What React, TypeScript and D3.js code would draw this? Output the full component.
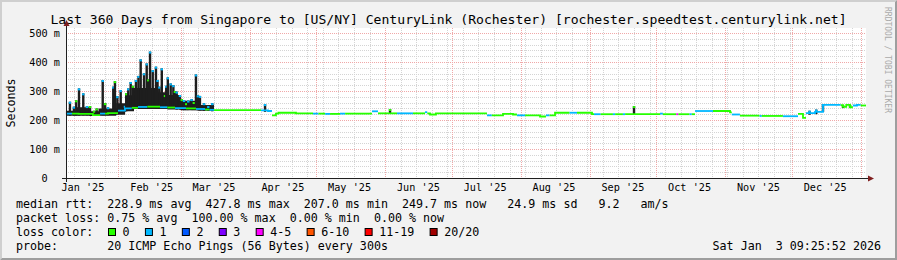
import React from "react";
import * as d3 from "d3";

// ---------- data ----------
const START = "2025-01-08 09:25:52";
const END = "2026-01-03 09:25:52";

const titleText =
  "Last 360 Days from Singapore to [US/NY] CenturyLink (Rochester) [rochester.speedtest.centurylink.net]";
const yAxisTitle = "Seconds";
const yTickValues = [0, 100, 200, 300, 400, 500];
const yTickLabels = ["0  ", "100 m", "200 m", "300 m", "400 m", "500 m"];
const monthLabels = [
  "Jan '25", "Feb '25", "Mar '25", "Apr '25", "May '25", "Jun '25",
  "Jul '25", "Aug '25", "Sep '25", "Oct '25", "Nov '25", "Dec '25",
];

// median rtt (ms), step starts, with loss count per step
const medianTimes = [
  "2025-01-08 09", "2025-01-11 02", "2025-01-14 00", "2025-01-20 12", "2025-01-23 17",
  "2025-01-26 00", "2025-01-27 07", "2025-01-31 19", "2025-02-03 22", "2025-02-07 00",
  "2025-02-09 19", "2025-02-14 00", "2025-02-19 17", "2025-02-23 00", "2025-02-26 11",
  "2025-03-03 09", "2025-03-07 21", "2025-03-11 23", "2025-03-14 00", "2025-03-16 00",
  "2025-04-06 03", "2025-04-09 07", "2025-04-11 02", "2025-04-12 21", "2025-04-14 00",
  "2025-04-21 21", "2025-04-29 13", "2025-05-02 00", "2025-05-05 00", "2025-05-07 05",
  "2025-05-11 17", "2025-05-14 00", "2025-05-26 02", "2025-05-28 19", "2025-06-06 08",
  "2025-06-13 13", "2025-06-18 23", "2025-06-19 23", "2025-06-21 05", "2025-06-23 21",
  "2025-07-16 20", "2025-07-19 00", "2025-07-24 01", "2025-07-28 13", "2025-07-30 08",
  "2025-08-03 00", "2025-08-09 17", "2025-08-12 09", "2025-08-14 00", "2025-08-16 11",
  "2025-08-23 00", "2025-08-26 08", "2025-09-02 02", "2025-09-03 00", "2025-09-06 00",
  "2025-09-11 12", "2025-09-12 12", "2025-09-16 00", "2025-09-17 00", "2025-10-02 17",
  "2025-10-04 00", "2025-10-10 00", "2025-10-11 00", "2025-10-16 00", "2025-10-17 00",
  "2025-10-18 11", "2025-10-26 13", "2025-11-03 05", "2025-11-04 00", "2025-11-07 16",
  "2025-11-16 12", "2025-11-17 12", "2025-11-27 00", "2025-12-03 19", "2025-12-06 01",
  "2025-12-07 09", "2025-12-11 11", "2025-12-15 01", "2025-12-23 00", "2025-12-24 01",
  "2025-12-25 12", "2025-12-27 05", "2025-12-28 12", "2025-12-30 08", "2026-01-01 00",
];
const medianMs = [
  222, 222, 221, 217, 222,
  222, 224, 232, 240, 242,
  245, 246, 244, 243, 241,
  240, 238, 236, 235, 234,
  233, 231, 216, 222, 225,
  223, 222, 222, 221, 221,
  222, 222, 230, 223, 223,
  223, 227, 223, 219, 223,
  216, 216, 221, 219, 216,
  216, 212, 216, 216, 225,
  225, 225, 220, 220, 220,
  220, 220, 220, 220, 222,
  220, 220, 220, 220, 220,
  231, 231, 226, 219, 215,
  214, 214, 213, 221, 207,
  224, 228, 252, 251, 245,
  252, 244, 250, 252, 250,
];
const medianLoss = [
  1, 0, 0, 0, 1,
  0, 0, 1, 1, 0,
  1, 0, 1, 0, 1,
  0, 1, 0, 1, 0,
  1, 1, 0, 0, 0,
  0, 1, 0, 1, 0,
  1, 0, 1, 0, 1,
  0, 1, 0, 0, 0,
  1, 0, 0, 0, 1,
  0, 0, 1, 0, 0,
  1, 0, 0, 1, 0,
  1, 0, 1, 0, 1,
  0, 5, 0, 1, 0,
  1, 0, 0, 1, 0,
  1, 0, 1, 0, 0,
  1, 1, 1, 0, 0,
  0, 0, 1, 1, 0,
];

// smoke spikes: time, lower and upper edge (ms), loss count at the top
const spikeTimes = [
  "2025-01-10 04", "2025-01-11 23", "2025-01-13 00", "2025-01-14 06", "2025-01-16 04",
  "2025-01-17 20", "2025-01-19 05", "2025-01-21 00", "2025-01-22 05", "2025-01-24 22",
  "2025-01-26 00", "2025-01-27 07", "2025-01-29 16", "2025-01-30 10", "2025-01-31 12",
  "2025-02-02 00", "2025-02-03 22", "2025-02-04 12", "2025-02-05 10", "2025-02-06 12",
  "2025-02-07 12", "2025-02-08 21", "2025-02-10 00", "2025-02-11 00", "2025-02-12 12",
  "2025-02-13 17", "2025-02-14 10", "2025-02-15 05", "2025-02-16 10", "2025-02-17 21",
  "2025-02-18 14", "2025-02-19 10", "2025-02-20 12", "2025-02-21 23", "2025-02-22 12",
  "2025-02-23 05", "2025-02-24 12", "2025-02-25 17", "2025-02-26 10", "2025-02-27 05",
  "2025-02-28 16", "2025-03-01 12", "2025-03-02 12", "2025-03-03 12", "2025-03-04 10",
  "2025-03-05 23", "2025-03-06 22", "2025-03-07 21", "2025-03-08 18", "2025-03-09 16",
  "2025-03-11 12", "2025-03-13 10", "2025-03-15 05", "2025-04-07 23", "2025-06-03 05",
  "2025-09-21 00", "2025-12-09 00", "2025-12-12 00", "2025-12-15 01", "2025-12-24 01",
  "2025-12-27 05",
];
const spikeLow = [
  215, 215, 215, 215, 216,
  216, 216, 214, 214, 216,
  216, 216, 218, 218, 220,
  222, 228, 230, 232, 235,
  236, 238, 240, 240, 240,
  240, 240, 242, 242, 242,
  240, 240, 240, 240, 240,
  240, 238, 238, 238, 236,
  236, 235, 234, 234, 234,
  234, 234, 234, 233, 233,
  232, 232, 230, 228, 221,
  219, 218, 220, 228, 241,
  242,
];
const spikeHigh = [
  263, 246, 268, 309, 292,
  248, 248, 232, 240, 338,
  258, 244, 315, 334, 282,
  303, 249, 292, 309, 331,
  318, 338, 352, 409, 361,
  395, 340, 436, 372, 384,
  338, 315, 378, 286, 318,
  347, 326, 320, 300, 298,
  286, 272, 269, 258, 267,
  272, 262, 357, 285, 283,
  258, 248, 258, 255, 238,
  248, 232, 236, 255, 252,
  252,
];
const spikeLoss = [
  1, 1, 0, 1, 1,
  1, 0, 0, 0, 1,
  0, 1, 1, 0, 1,
  1, 1, 0, 1, 1,
  0, 1, 1, 1, 1,
  1, 0, 1, 1, 1,
  1, 1, 1, 0, 1,
  1, 1, 1, 0, 1,
  1, 0, 1, 0, 1,
  1, 0, 1, 1, 1,
  1, 1, 1, 1, 0,
  0, 1, 1, 1, 0,
  0,
];

// dense smoke body in the early period
const bandTimes = [
  "2025-01-08 09", "2025-01-13 00", "2025-01-19 00", "2025-01-23 00", "2025-01-31 00",
  "2025-02-04 00", "2025-02-08 00", "2025-02-19 00", "2025-02-23 00", "2025-03-01 00",
  "2025-03-09 00", "2025-03-16 00",
];
const bandLow = [215, 215, 214, 215, 218, 230, 238, 238, 236, 234, 232, 233];
const bandHigh = [232, 244, 230, 240, 258, 285, 310, 296, 286, 266, 252, 233];

const lossLabels = ["0", "1", "2", "3", "4-5", "6-10", "11-19", "20/20"];
const lossColors = ["#26ff00", "#00b8ff", "#0059ff", "#7e00ff", "#ff00ff", "#ff5500", "#ff0000", "#a10000"];

const legendRtt =
  "median rtt:  228.9 ms avg  427.8 ms max  207.0 ms min  249.7 ms now   24.9 ms sd   9.2   am/s";
const legendLoss = "packet loss: 0.75 % avg  100.00 % max  0.00 % min  0.00 % now";
const legendColorTitle = "loss color:";
const legendProbe = "probe:       20 ICMP Echo Pings (56 Bytes) every 300s";
const stampText = "Sat Jan  3 09:25:52 2026";
const watermark = "RRDTOOL / TOBI OETIKER";

// ---------- layout ----------
const W = 897;
const H = 260;
const PL = 66;
const PR = 866;
const PB = 178;
const PT = 28;
const MONO = "'DejaVu Sans Mono', monospace";
const CH = 7.02; // legend char advance

const parseFull = d3.utcParse("%Y-%m-%d %H:%M:%S");
const parseT = d3.utcParse("%Y-%m-%d %H");

function lossIndex(n: number): number {
  if (n <= 3) return n;
  if (n <= 5) return 4;
  if (n <= 10) return 5;
  if (n <= 19) return 6;
  return 7;
}

const PRE: React.CSSProperties = { whiteSpace: "pre" };

export default function App() {
  const t0 = parseFull(START)!;
  const t1 = parseFull(END)!;
  const x = d3.scaleUtc().domain([t0, t1]).range([PL, PR]);
  const y = d3.scaleLinear().domain([0, 500]).range([PB, 33]);

  const px = (v: number) => Math.round(v) + 0.5;

  const minorH = d3.range(20, 540, 20).filter((v) => v % 100 !== 0 && y(v) >= PT);
  const majorH = yTickValues.filter((v) => v > 0);
  const sundays = d3.utcSunday.range(t0, t1);
  const monthStarts = d3.utcMonth.range(t0, t1);
  const labelMonths = d3.utcMonth
    .range(d3.utcMonth.floor(t0), t1)
    .map((m) => d3.utcDay.offset(m, 15))
    .filter((m) => m >= t0 && m <= t1);

  // median runs by color
  const med = medianTimes.map((t, i) => ({
    t: parseT(t)!,
    v: medianMs[i],
    c: lossIndex(medianLoss[i]),
  }));
  const paths: { d: string; c: number }[] = [];
  let cur = "";
  for (let i = 0; i < med.length; i++) {
    const a = med[i];
    const xa = x(a.t);
    const xb = i + 1 < med.length ? x(med[i + 1].t) : PR;
    if (cur === "") cur = `M${xa},${y(a.v)}`;
    else cur += `V${y(a.v)}`;
    cur += `H${xb}`;
    const next = med[i + 1];
    if (!next || next.c !== a.c) {
      paths.push({ d: cur, c: a.c });
      cur = "";
    }
  }

  const band = bandTimes.map((t, i) => ({ t: parseT(t)!, lo: bandLow[i], hi: bandHigh[i] }));
  const bandArea = d3
    .area<{ t: Date; lo: number; hi: number }>()
    .x((d) => x(d.t))
    .y0((d) => y(d.lo))
    .y1((d) => y(d.hi))
    .curve(d3.curveStepAfter)(band) || "";

  const spikes = spikeTimes.map((t, i) => ({
    t: parseT(t)!,
    lo: spikeLow[i],
    hi: spikeHigh[i],
    c: lossIndex(spikeLoss[i]),
  }));

  // legend boxes layout
  let lx = 108;
  const legendItems = lossLabels.map((lab, i) => {
    const item = { bx: lx, tx: lx + 14.6, lab, col: lossColors[i] };
    lx = lx + 14.6 + lab.length * CH + 15.3;
    return item;
  });

  const arrowCol = "#801f1f";

  return (
    <svg
      width={W}
      height={H}
      viewBox={`0 0 ${W} ${H}`}
      style={{ position: "absolute", left: 0, top: 0, display: "block" }}
      fontFamily={MONO}
    >
      <rect x={0} y={0} width={W} height={H} fill="#f2f2f2" />
      {/* 3D shade */}
      <polygon points={`0,0 ${W},0 ${W - 2},2 2,2 2,${H - 2} 0,${H}`} fill="#cfcfcf" />
      <polygon points={`${W},0 ${W},${H} 0,${H} 2,${H - 2} ${W - 2},${H - 2} ${W - 2},2`} fill="#9e9e9e" />

      {/* canvas */}
      <rect x={PL} y={PT} width={PR - PL} height={PB - PT} fill="#ffffff" />

      {/* minor grid */}
      <g stroke="#d4d4d4" strokeWidth={1} strokeDasharray="1,1" shapeRendering="crispEdges">
        {minorH.map((v) => (
          <line key={"mh" + v} x1={PL} x2={PR} y1={px(y(v))} y2={px(y(v))} />
        ))}
        {sundays.map((d) => (
          <line key={"mv" + +d} x1={px(x(d))} x2={px(x(d))} y1={PT} y2={PB} />
        ))}
      </g>
      {/* major grid */}
      <g stroke="#f0a8a8" strokeWidth={1} strokeDasharray="1,1" shapeRendering="crispEdges">
        {majorH.map((v) => (
          <line key={"Mh" + v} x1={PL} x2={PR} y1={px(y(v))} y2={px(y(v))} />
        ))}
        {monthStarts.map((d) => (
          <line key={"Mv" + +d} x1={px(x(d))} x2={px(x(d))} y1={PT} y2={PB} />
        ))}
      </g>

      {/* smoke */}
      <path d={bandArea} fill="#1e1e1e" />
      {spikes.map((s, i) => (
        <g key={"s" + i}>
          <rect x={x(s.t) - 1.2} y={y(s.hi)} width={2.4} height={y(s.lo) - y(s.hi)} fill="#1e1e1e" />
          <rect x={x(s.t) - 1.2} y={y(s.hi)} width={2.4} height={2} fill={lossColors[s.c]} />
        </g>
      ))}

      {/* median */}
      {paths.map((p, i) => (
        <path key={"m" + i} d={p.d} fill="none" stroke={lossColors[p.c]} strokeWidth={1.8} />
      ))}

      {/* axes */}
      <line x1={PL - 4} x2={PR + 2} y1={PB + 0.5} y2={PB + 0.5} stroke="#1f1f1f" strokeWidth={1} />
      <line x1={PL + 0.5} x2={PL + 0.5} y1={PB + 4} y2={PT - 2} stroke="#1f1f1f" strokeWidth={1} />
      <polygon points={`${PL + 0.5},${PT - 8} ${PL - 2.5},${PT - 2} ${PL + 3.5},${PT - 2}`} fill={arrowCol} />
      <polygon points={`${PR + 8},${PB + 0.5} ${PR + 2},${PB - 2.5} ${PR + 2},${PB + 3.5}`} fill={arrowCol} />

      {/* y labels */}
      <g fontSize={10.2} fill="#000" textAnchor="end">
        {yTickValues.map((v, i) => (
          <text key={"yl" + v} x={60} y={y(v)} dominantBaseline="central" xmlSpace="preserve" style={PRE}>
            {yTickLabels[i]}
          </text>
        ))}
      </g>
      {/* x labels */}
      <g fontSize={10.2} fill="#000" textAnchor="middle">
        {labelMonths.map((m, i) => (
          <text key={"xl" + i} x={x(m)} y={191}>
            {monthLabels[i]}
          </text>
        ))}
      </g>

      {/* titles */}
      <text x={W / 2} y={23.5} fontSize={13.1} textAnchor="middle" fill="#000">
        {titleText}
      </text>
      <text transform={`translate(15,103) rotate(-90)`} fontSize={11.66} textAnchor="middle" fill="#000">
        {yAxisTitle}
      </text>
      <text transform={`translate(885,60) rotate(90)`} fontSize={8} textAnchor="middle" fill="#aaaaaa">
        {watermark}
      </text>

      {/* legend */}
      <g fontSize={11.66} fill="#000">
        <text x={16} y={208} xmlSpace="preserve" style={PRE}>{legendRtt}</text>
        <text x={16} y={222} xmlSpace="preserve" style={PRE}>{legendLoss}</text>
        <text x={16} y={236} xmlSpace="preserve" style={PRE}>{legendColorTitle}</text>
        {legendItems.map((it) => (
          <g key={it.lab}>
            <rect x={it.bx + 0.5} y={228.5} width={7} height={7} fill={it.col} stroke="#000" strokeWidth={1} />
            <text x={it.tx} y={236}>{it.lab}</text>
          </g>
        ))}
        <text x={16} y={250} xmlSpace="preserve" style={PRE}>{legendProbe}</text>
        <text x={881} y={250} textAnchor="end" xmlSpace="preserve" style={PRE}>{stampText}</text>
      </g>
    </svg>
  );
}
